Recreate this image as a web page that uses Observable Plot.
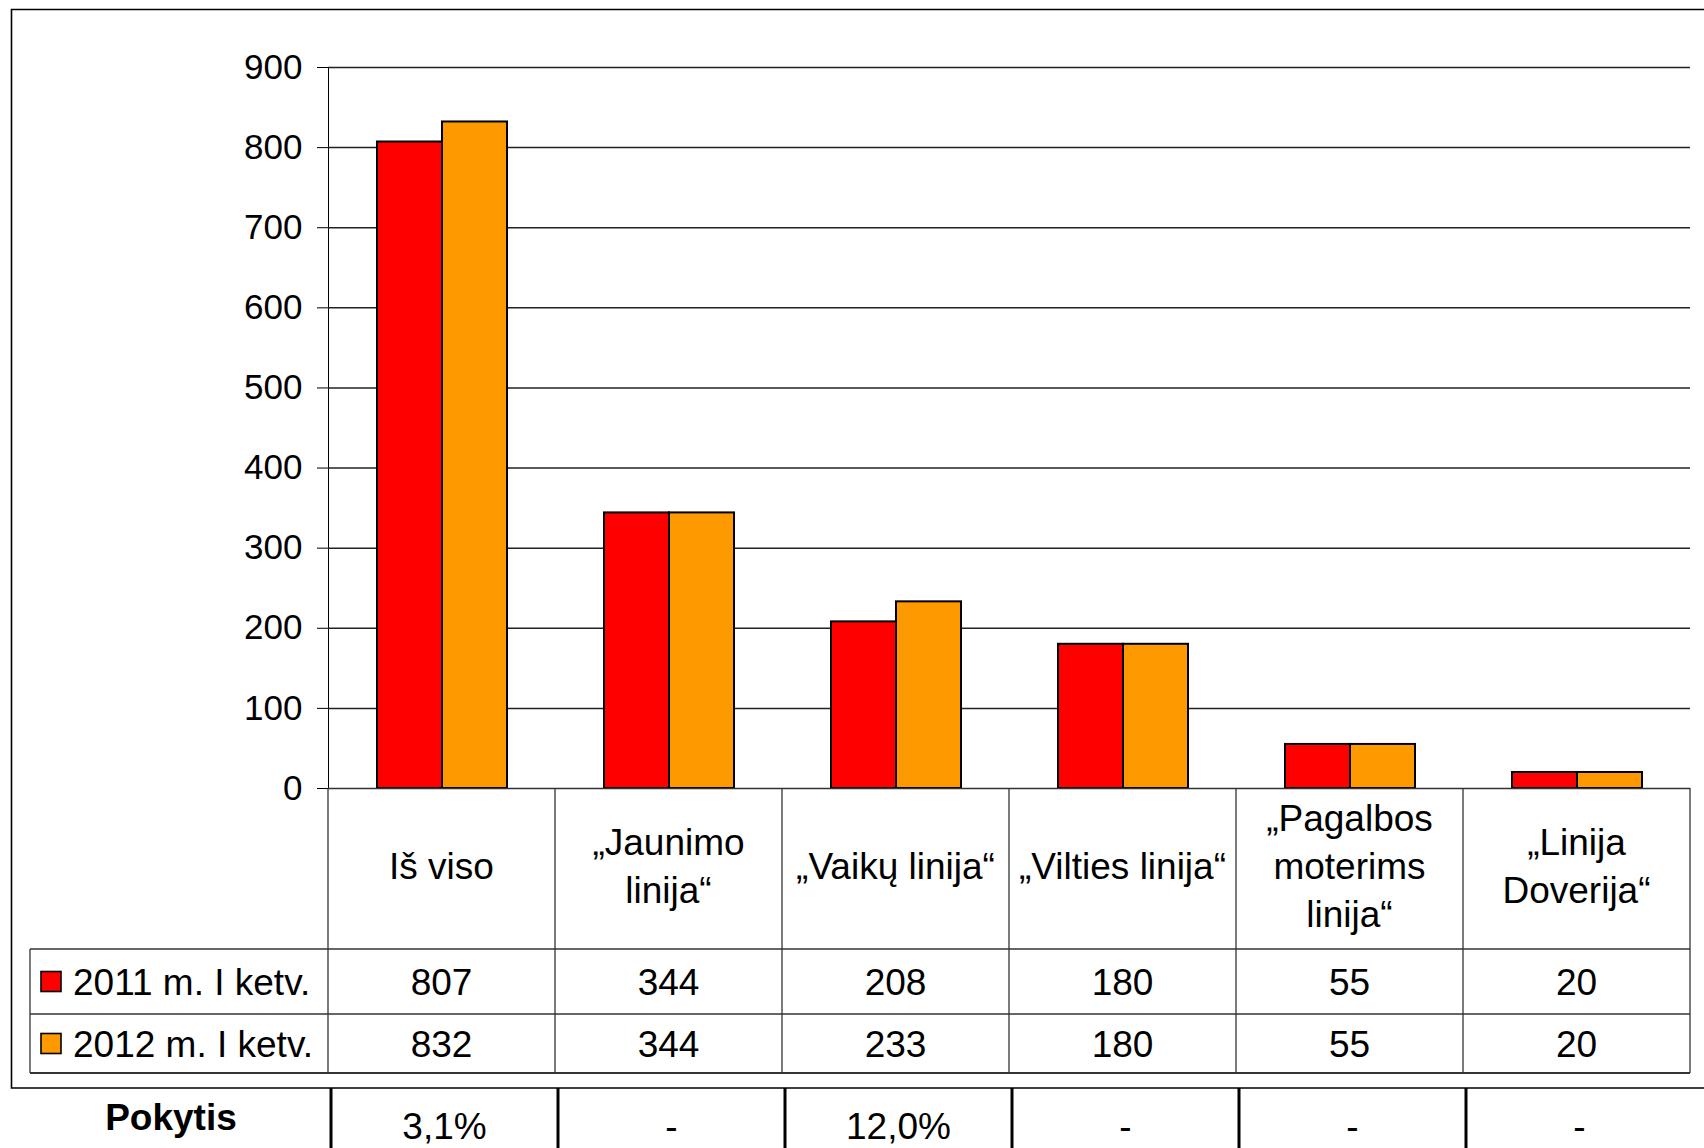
<!DOCTYPE html>
<html>
<head>
<meta charset="utf-8">
<script src="https://cdn.jsdelivr.net/npm/d3@7"></script>
<script src="https://cdn.jsdelivr.net/npm/@observablehq/plot@0.6"></script>
<style>
  html, body { margin: 0; padding: 0; background: #fff; }
  #wrap { position: relative; width: 1704px; height: 1148px; overflow: hidden; font-family: "Liberation Sans", Arial, sans-serif; }
  #wrap > svg { position: absolute; left: 0; top: 0; }
  #overlay { pointer-events: none; }
</style>
</head>
<body>
<div id="wrap"></div>
<script>
const categories = ["Iš viso", "„Jaunimo\nlinija“", "„Vaikų linija“", "„Vilties linija“", "„Pagalbos\nmoterims\nlinija“", "„Linija\nDoverija“"];
const seriesNames = ["2011 m. I ketv.", "2012 m. I ketv."];
const values2011 = [807, 344, 208, 180, 55, 20];
const values2012 = [832, 344, 233, 180, 55, 20];
const changeLabel = "Pokytis";
const changes = ["3,1%", "-", "12,0%", "-", "-", "-"];
const yTicks = [0, 100, 200, 300, 400, 500, 600, 700, 800, 900];
const colors = ["#ff0000", "#ff9900"];

const seriesValues = [values2011, values2012];
const data = categories.flatMap((c, i) => seriesNames.map((s, j) => ({category: c, series: s, value: seriesValues[j][i]})));

const FONT = "'Liberation Sans', Arial, sans-serif";
const W = 1704, H = 830;
const TFS = 37; // table font size

const chart = Plot.plot({
  width: W, height: H,
  marginLeft: 326, marginRight: 13, marginTop: 67, marginBottom: 42,
  style: {fontSize: "35px", fontFamily: FONT, color: "#000", background: "transparent", overflow: "visible"},
  fx: {domain: categories, padding: 0, axis: null},
  x: {domain: seriesNames, paddingInner: 0, paddingOuter: 0.72, axis: null},
  y: {domain: [0, 900], ticks: yTicks, tickSize: 11, tickPadding: 15, label: null, line: true, tickFormat: d => String(d)},
  color: {domain: seriesNames, range: colors},
  marks: [
    Plot.ruleY(yTicks.filter(d => d > 0), {stroke: "#222", strokeWidth: 1.5}),
    Plot.barY(data, {fx: "category", x: "series", y: "value", fill: "series", stroke: "#000", strokeWidth: 2}),
    Plot.ruleY([0], {stroke: "#333", strokeWidth: 1.5})
  ]
});
document.getElementById("wrap").appendChild(chart);

// Data table, border and change row drawn below the bars using the plot's own scales
const fxS = chart.scale("fx");
const yS = chart.scale("y");
const bw = fxS.bandwidth;
const colLeft = c => fxS.apply(c);
const x1 = colLeft(categories[categories.length - 1]) + bw;
const yZero = yS.apply(0);
const headerBottom = yZero + 161;
const row1Bottom = headerBottom + 65;
const row2Bottom = row1Bottom + 59;
const tableLeft = 30;
const borderBottom = 1088;

const svg = d3.select("#wrap").append("svg")
  .attr("id", "overlay")
  .attr("width", W).attr("height", 1148)
  .style("font-family", FONT);

// outer frame
svg.append("path")
  .attr("d", `M1704,9.5 H11.5 V${borderBottom} H1704`)
  .attr("fill", "none").attr("stroke", "#000").attr("stroke-width", 1.6);

const grid = svg.append("g").attr("stroke", "#333").attr("stroke-width", 1.3).attr("fill", "none");
categories.forEach(c => {
  grid.append("line").attr("x1", colLeft(c)).attr("x2", colLeft(c)).attr("y1", yZero).attr("y2", row2Bottom);
});
grid.append("line").attr("x1", x1).attr("x2", x1).attr("y1", yZero).attr("y2", row2Bottom);
[headerBottom, row1Bottom].forEach(yy => {
  grid.append("line").attr("x1", tableLeft).attr("x2", x1).attr("y1", yy).attr("y2", yy);
});
grid.append("line").attr("x1", tableLeft).attr("x2", x1).attr("y1", row2Bottom).attr("y2", row2Bottom).attr("stroke-width", 1.8);
grid.append("line").attr("x1", tableLeft).attr("x2", tableLeft).attr("y1", headerBottom).attr("y2", row2Bottom);

// header labels
const lineH = 48;
categories.forEach(c => {
  const lines = c.split("\n");
  const cx = colLeft(c) + bw / 2;
  const cy = (yZero + headerBottom) / 2;
  const t = svg.append("text").attr("text-anchor", "middle").attr("font-size", TFS).attr("fill", "#000");
  lines.forEach((ln, k) => {
    t.append("tspan").attr("x", cx)
      .attr("y", cy + (k - (lines.length - 1) / 2) * lineH + 10)
      .text(ln);
  });
});

// data rows
const rowCenters = [(headerBottom + row1Bottom) / 2, (row1Bottom + row2Bottom) / 2];
seriesNames.forEach((s, j) => {
  const cy = rowCenters[j];
  svg.append("rect").attr("x", 41).attr("y", cy - 10).attr("width", 20).attr("height", 20)
    .attr("fill", colors[j]).attr("stroke", "#000").attr("stroke-width", 1.6);
  svg.append("text").attr("x", 73).attr("y", cy + 13).attr("font-size", TFS).attr("fill", "#000").text(s);
  categories.forEach((c, i) => {
    svg.append("text").attr("x", colLeft(c) + bw / 2).attr("y", cy + 13)
      .attr("text-anchor", "middle").attr("font-size", TFS).attr("fill", "#000")
      .text(seriesValues[j][i]);
  });
});

// change row
const chg = svg.append("g");
categories.forEach((c, i) => {
  const lx = colLeft(c) + 3;
  chg.append("line").attr("x1", lx).attr("x2", lx).attr("y1", borderBottom).attr("y2", 1148)
    .attr("stroke", "#000").attr("stroke-width", 3);
  chg.append("text").attr("x", lx + bw / 2).attr("y", 1139)
    .attr("text-anchor", "middle").attr("font-size", TFS).attr("fill", "#000").text(changes[i]);
});
chg.append("text").attr("x", 171).attr("y", 1130).attr("text-anchor", "middle")
  .attr("font-size", TFS).attr("font-weight", "bold").attr("fill", "#000").text(changeLabel);
</script>
</body>
</html>
